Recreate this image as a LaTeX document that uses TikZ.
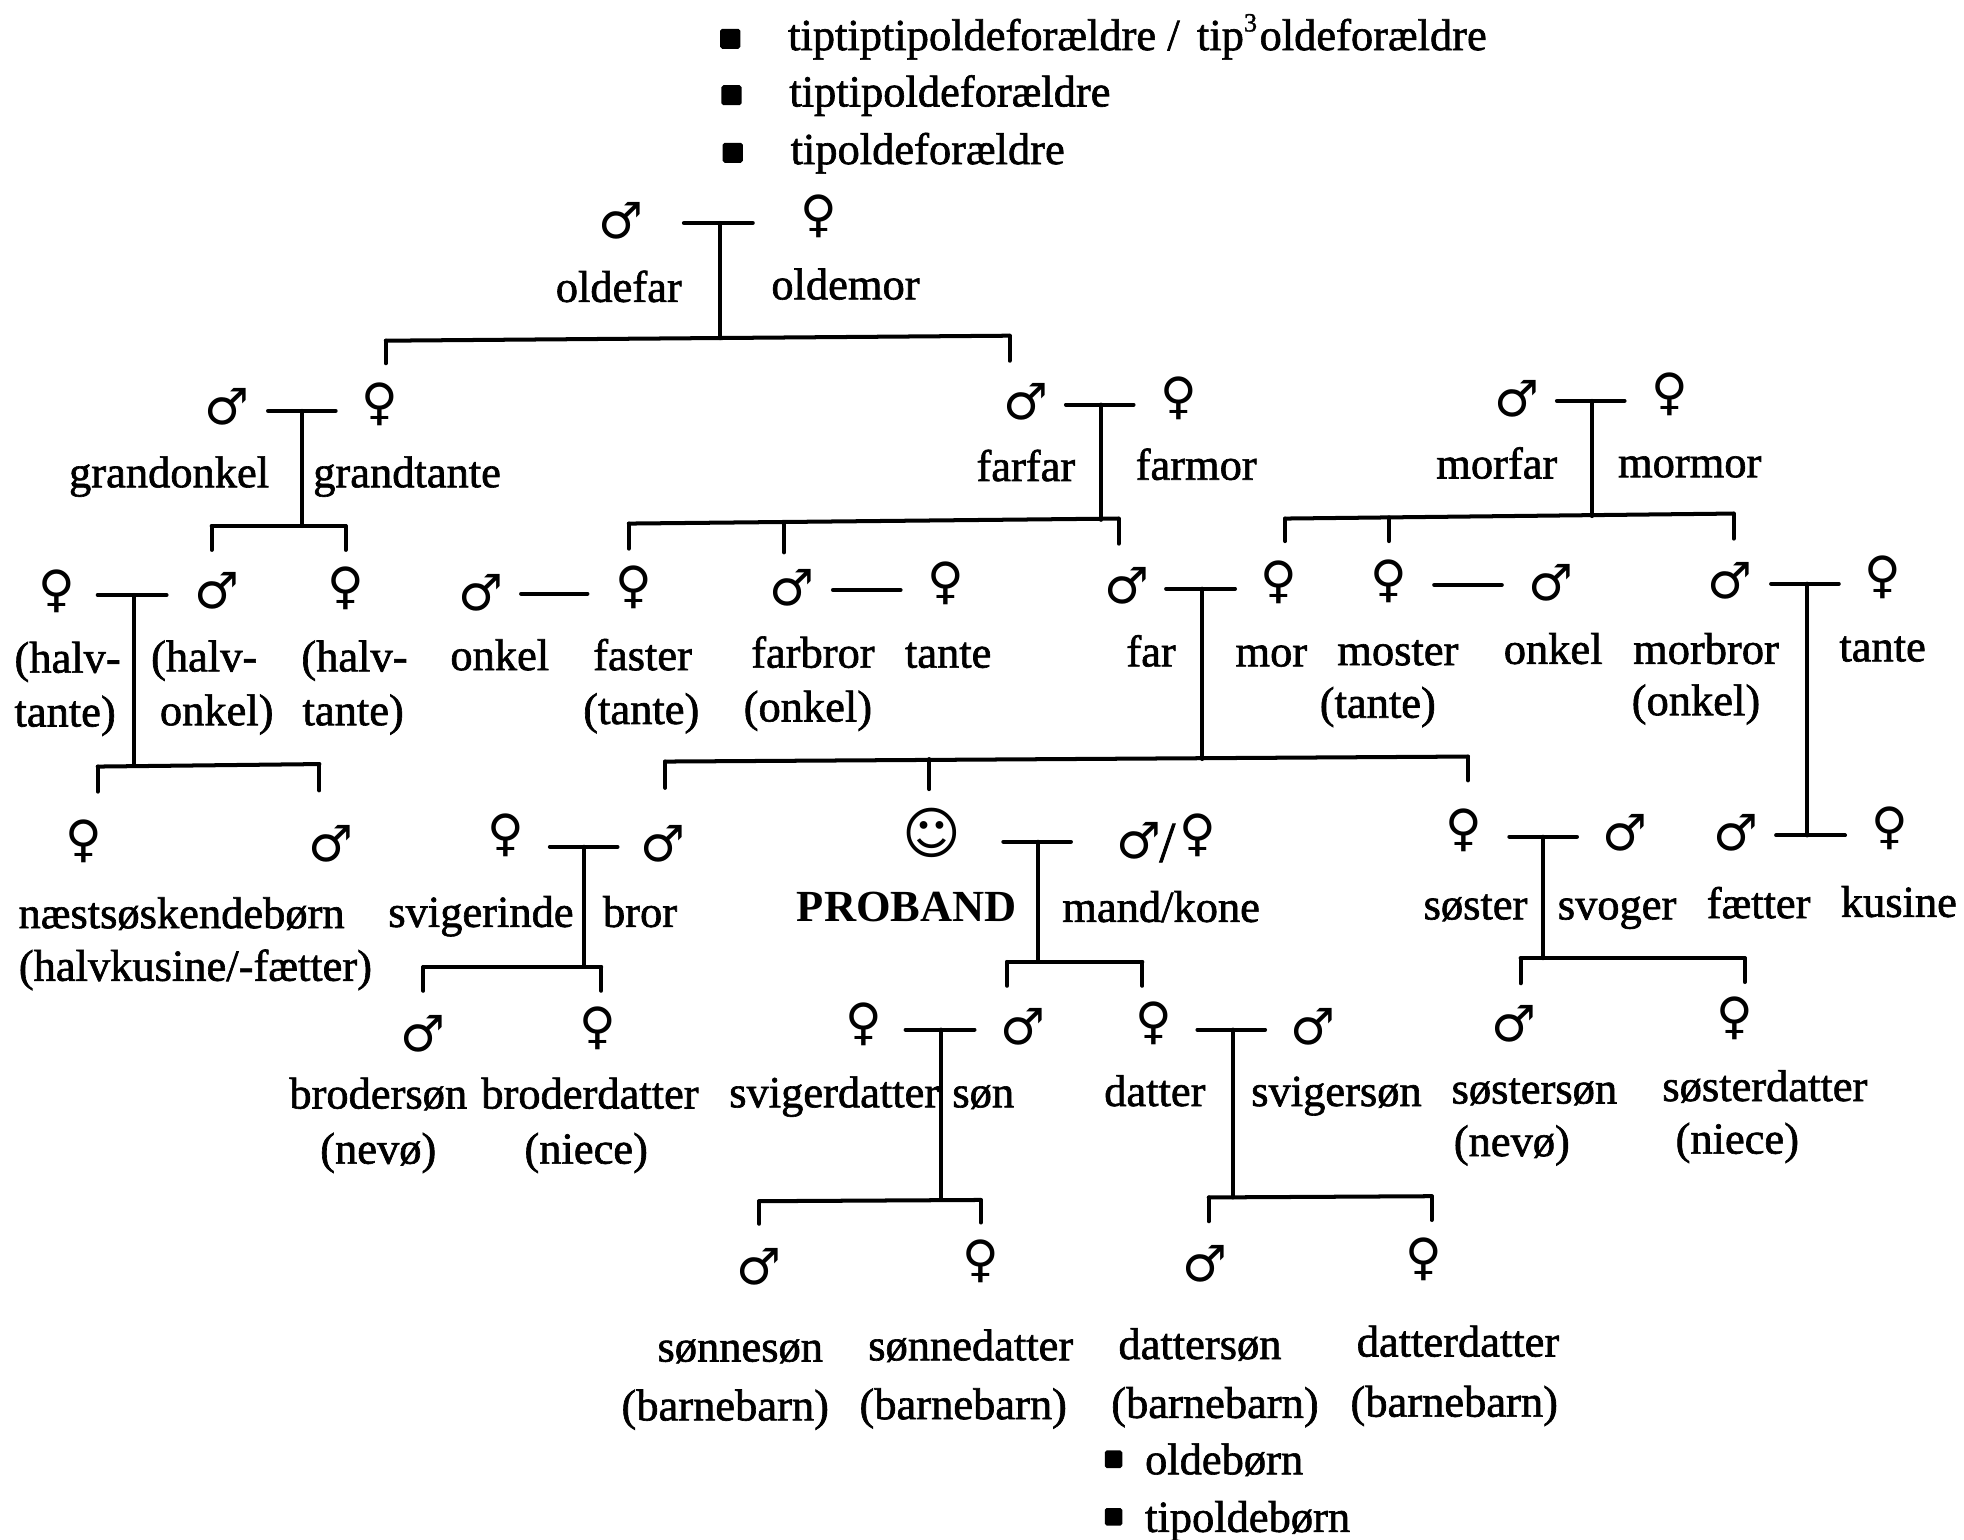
\documentclass[tikz,border=0pt]{standalone}
\usepackage{fontspec}
\setmainfont{Liberation Serif}
\newfontfamily\labfont[FakeBold=1.4]{Liberation Serif}
\newfontfamily\plainfont{Liberation Serif}
\newfontfamily\symfont{DejaVu Sans}
\tikzset{x=1pt,y=-1pt,
 lab/.style={inner sep=0pt,font=\labfont\fontsize{35.5}{46}\selectfont,anchor=base},
 sym/.style={inner sep=0pt,font=\symfont\fontsize{40}{40}\selectfont,anchor=center},
 bul/.style={fill=black,minimum size=16pt,inner sep=0pt,rounded corners=1.5pt},
 tie/.style={line width=3.2pt,line cap=round,black}}
\newcommand{\symM}[3]{\node[sym] (#1) at (#2,#3) {♂};}
\newcommand{\symF}[3]{\node[sym] (#1) at (#2,#3) {♀};}
\newcommand{\tlab}[4]{\node[lab] (#1) at (#2,#3) {#4};}
\newcommand{\fambar}[6]{% name, xl, xr, ybar, xstem, ystem end
 \coordinate (#1l) at (#2,#4); \coordinate (#1r) at (#3,#4);
 \coordinate (#1s) at (#5,#4); \coordinate (#1e) at (#5,#6);
 \draw[tie] (#1l) -- (#1r); \draw[tie] (#1s) -- (#1e);}
\newcommand{\sibbar}[5]{% name, x1,y1,x2,y2
 \coordinate (#1a) at (#2,#3); \coordinate (#1b) at (#4,#5);
 \draw[tie] (#1a) -- (#1b);}
\newcommand{\dropbar}[4]{% name x y1 y2
 \coordinate (#1a) at (#2,#3); \coordinate (#1b) at (#2,#4);
 \draw[tie] (#1a) -- (#1b);}
\begin{document}
\begin{tikzpicture}
\useasboundingbox (0,0) rectangle (1568,1229);
\fill[white] (0,0) rectangle (1568,1229);
% top list
\node[bul] (b1) at (583,31) {}; \node[lab,anchor=base west] (t1) at (629,40) {tiptiptipoldeforældre / \kern5pt tip\raisebox{0.42em}{\fontsize{21}{21}\selectfont 3}\kern2pt oldeforældre};
\node[bul] (b2) at (584,76) {}; \node[lab,anchor=base west] (t2) at (630,85) {tiptipoldeforældre};
\node[bul] (b3) at (585,122) {}; \node[lab,anchor=base west] (t3) at (631,131) {tipoldeforældre};
% generation: oldefar
\symM{s1}{496}{176}\symF{s2}{654}{173}
\tlab{n1}{494}{241}{oldefar}\tlab{n2}{675}{239}{oldemor}
\fambar{A}{546}{601}{178}{575}{270}
\sibbar{Ah}{308}{272}{806}{268}\dropbar{Ad1}{308}{272}{290}\dropbar{Ad2}{806}{268}{288}
% grandonkel
\symM{s3}{181}{325}\symF{s4}{303}{323}
\tlab{n3}{135}{389}{grandonkel}\tlab{n4}{325}{389}{grandtante}
\fambar{B}{214}{268}{328}{241}{420}
\sibbar{Bh}{169}{420}{276}{420}\dropbar{Bd1}{169}{420}{439}\dropbar{Bd2}{276}{420}{439}
% farfar
\symM{s5}{819}{321}\symF{s6}{941}{318}
\tlab{n5}{819}{384}{farfar}\tlab{n6}{955}{383}{farmor}
\fambar{C}{851}{905}{323}{879}{415}
\sibbar{Ch}{502}{418}{893}{414}\dropbar{Cd1}{502}{418}{438}\dropbar{Cd2}{626}{417}{441}\dropbar{Cd3}{893}{414}{434}
% morfar
\symM{s7}{1211}{318}\symF{s8}{1333}{315}
\tlab{n7}{1195}{382}{morfar}\tlab{n8}{1349}{381}{mormor}
\fambar{D}{1243}{1297}{320}{1271}{412}
\sibbar{Dh}{1026}{414}{1384}{410}\dropbar{Dd1}{1026}{414}{432}\dropbar{Dd2}{1109}{413}{432}\dropbar{Dd3}{1384}{410}{430}
% halv row
\symF{s9}{45}{472}\symM{s10}{173}{472}\symF{s11}{276}{470}
\tlab{n9}{54}{537}{(halv-}\tlab{n9b}{52}{580}{tante)}
\tlab{n10}{163}{536}{(halv-}\tlab{n10b}{173}{579}{onkel)}
\tlab{n11}{283}{536}{(halv-}\tlab{n11b}{282}{579}{tante)}
\fambar{E}{78}{133}{475}{107}{611}
\sibbar{Eh}{78}{612}{255}{610}\dropbar{Ed1}{78}{612}{632}\dropbar{Ed2}{255}{610}{631}
% onkel faster
\symM{s12}{384}{473}\symF{s13}{506}{469}
\coordinate (Fl) at (416,474);\coordinate (Fr) at (469,474);\draw[tie] (Fl)--(Fr);
\tlab{n12}{399}{535}{onkel}\tlab{n13}{513}{535}{faster}\tlab{n13b}{512}{578}{(tante)}
% farbror tante
\symM{s14}{632}{469}\symF{s15}{755}{466}
\coordinate (Gl) at (665,471);\coordinate (Gr) at (719,471);\draw[tie] (Gl)--(Gr);
\tlab{n14}{649}{533}{farbror}\tlab{n14b}{645}{576}{(onkel)}\tlab{n15}{757}{533}{tante}
% far mor
\symM{s16}{900}{468}\symF{s17}{1021}{465}
\tlab{n16}{919}{532}{far}\tlab{n17}{1015}{532}{mor}
\fambar{H}{931}{986}{470}{960}{606}
\sibbar{Hh}{531}{608}{1172}{604}\dropbar{Hd1}{531}{608}{629}\dropbar{Hd2}{742}{606}{630}\dropbar{Hd3}{1172}{604}{623}
% moster onkel
\symF{s18}{1109}{464}\symM{s19}{1238}{465}
\coordinate (Il) at (1145,467);\coordinate (Ir) at (1199,467);\draw[tie] (Il)--(Ir);
\tlab{n18}{1116}{531}{moster}\tlab{n18b}{1100}{573}{(tante)}\tlab{n19}{1240}{530}{onkel}
% morbror tante
\symM{s20}{1381}{464}\symF{s21}{1503}{461}
\tlab{n20}{1362}{530}{morbror}\tlab{n20b}{1354}{571}{(onkel)}\tlab{n21}{1503}{528}{tante}
\fambar{J}{1414}{1468}{466}{1443}{667}
\coordinate (Jl) at (1418,667);\coordinate (Jr) at (1473,667);\draw[tie] (Jl)--(Jr);
% faetter kusine
\symM{s22}{1386}{665}\symF{s23}{1509}{661}
\tlab{n22}{1404}{733}{fætter}\tlab{n23}{1516}{732}{kusine}
% naestsoeskende
\symF{s24}{67}{672}\symM{s25}{264}{674}
\tlab{n24}{145}{741}{næstsøskendebørn}\tlab{n24b}{156}{783}{(halvkusine/-fætter)}
% svigerinde bror
\symF{s26}{404}{667}\symM{s27}{529}{674}
\tlab{n26}{384}{740}{svigerinde}\tlab{n27}{511}{740}{bror}
\fambar{K}{439}{493}{676}{466}{772}
\sibbar{Kh}{338}{772}{480}{772}\dropbar{Kd1}{338}{772}{791}\dropbar{Kd2}{480}{772}{791}
% proband
\node[inner sep=0pt,font=\symfont\fontsize{45}{45}\selectfont] (s28) at (744,665) {☺};
\node[lab,font=\plainfont\fontsize{35.5}{46}\selectfont\bfseries] (n28) at (724,736) {PROBAND};
\symM{s29}{909}{671}\node[lab,font=\labfont\fontsize{46}{46}\selectfont] (n30) at (932,688) {/};\symF{s30}{956}{667}
\tlab{n29}{927}{736}{mand/kone}
\fambar{L}{801}{855}{672}{829}{768}
\sibbar{Lh}{804}{768}{912}{768}\dropbar{Ld1}{804}{768}{787}\dropbar{Ld2}{912}{768}{787}
% soester svoger
\symF{s31}{1169}{663}\symM{s32}{1297}{665}
\tlab{n31}{1178}{734}{søster}\tlab{n32}{1291}{734}{svoger}
\fambar{M}{1205}{1259}{668}{1232}{765}
\sibbar{Mh}{1214}{765}{1393}{765}\dropbar{Md1}{1214}{765}{785}\dropbar{Md2}{1393}{765}{784}
% brodersoen
\symM{s33}{338}{825}\symF{s34}{477}{821}
\tlab{n33}{302}{885}{brodersøn}\tlab{n33b}{302}{929}{(nevø)}
\tlab{n34}{471}{885}{broderdatter}\tlab{n34b}{468}{929}{(niece)}
% svigerdatter soen
\symF{s35}{690}{818}\symM{s36}{817}{820}
\tlab{n35}{666}{884}{svigerdatter}\tlab{n36}{785}{884}{søn}
\fambar{N}{723}{778}{822}{751}{958}
\sibbar{Nh}{606}{959}{783}{958}\dropbar{Nd1}{606}{959}{977}\dropbar{Nd2}{783}{958}{976}
% datter svigersoen
\symF{s37}{921}{817}\symM{s38}{1048}{820}
\tlab{n37}{922}{883}{datter}\tlab{n38}{1067}{883}{svigersøn}
\fambar{O}{956}{1010}{822}{984}{956}
\sibbar{Oh}{965}{956}{1143}{955}\dropbar{Od1}{965}{956}{975}\dropbar{Od2}{1143}{955}{974}
% soestersoen
\symM{s39}{1209}{817}\symF{s40}{1385}{813}
\tlab{n39}{1225}{881}{søstersøn}\tlab{n39b}{1207}{923}{(nevø)}
\tlab{n40}{1409}{879}{søsterdatter}\tlab{n40b}{1387}{921}{(niece)}
% barnebarn
\symM{s41}{606}{1011}\symF{s42}{783}{1007}\symM{s43}{962}{1009}\symF{s44}{1137}{1005}
\tlab{n41}{591}{1087}{sønnesøn}\tlab{n41b}{579}{1134}{(barnebarn)}
\tlab{n42}{775}{1086}{sønnedatter}\tlab{n42b}{769}{1133}{(barnebarn)}
\tlab{n43}{958}{1085}{dattersøn}\tlab{n43b}{970}{1132}{(barnebarn)}
\tlab{n44}{1164}{1083}{datterdatter}\tlab{n44b}{1161}{1131}{(barnebarn)}
% bottom list
\node[bul,minimum size=14pt] (b4) at (889,1165) {}; \node[lab,anchor=base west] (t4) at (914,1177) {oldebørn};
\node[bul,minimum size=14pt] (b5) at (889,1211) {}; \node[lab,anchor=base west] (t5) at (914,1223) {tipoldebørn};
\end{tikzpicture}
\end{document}
